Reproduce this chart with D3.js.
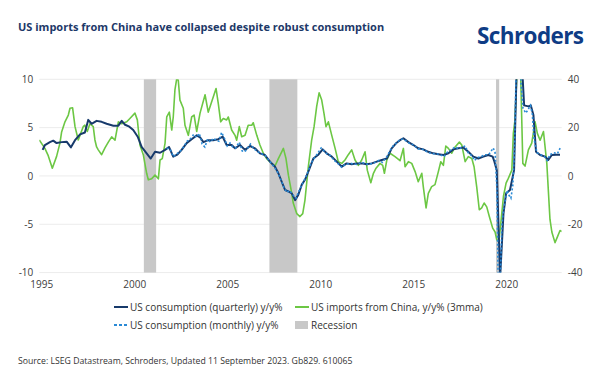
<!DOCTYPE html>
<html>
<head>
<meta charset="utf-8">
<script src="https://cdn.jsdelivr.net/npm/d3@7/dist/d3.min.js"></script>
<style>
  body { margin: 0; background: #fff; }
  svg { font-family: "Open Sans", sans-serif; }
</style>
</head>
<body>
<svg id="chart" width="600" height="383"></svg>
<script>
// US consumption (quarterly) y/y%, left axis
const qDates = [1995.73,1995.85,1996.12,1996.3,1996.48,1996.75,1997.02,1997.25,1997.47,1997.74,1998.0,1998.18,1998.36,1998.63,1998.9,1999.17,1999.53,1999.8,1999.98,2000.16,2000.39,2000.6,2000.84,2001.05,2001.32,2001.54,2001.77,2002.04,2002.31,2002.52,2002.75,2002.97,2003.2,2003.47,2003.74,2004.01,2004.19,2004.37,2004.63,2004.9,2005.17,2005.41,2005.62,2005.89,2006.07,2006.34,2006.61,2006.88,2007.14,2007.41,2007.68,2007.95,2008.22,2008.4,2008.58,2008.76,2008.94,2009.12,2009.3,2009.47,2009.66,2009.83,2010.01,2010.28,2010.55,2010.78,2011.0,2011.27,2011.54,2011.81,2012.07,2012.34,2012.61,2012.88,2013.15,2013.42,2013.69,2013.96,2014.23,2014.49,2014.76,2014.94,2015.12,2015.39,2015.66,2015.92,2016.19,2016.46,2016.73,2017.0,2017.27,2017.54,2017.81,2018.08,2018.34,2018.61,2018.88,2019.15,2019.42,2019.69,2019.92,2020.01,2020.14,2020.32,2020.5,2020.64,2020.85,2021.07,2021.26,2021.48,2021.61,2021.84,2021.97,2022.11,2022.25,2022.47,2022.74,2022.91,2023.1,2023.33,2023.54];
const qValues = [2.7,3.2,3.5,3.65,3.4,3.5,3.55,2.96,3.7,4.3,4.5,5.8,5.4,5.7,5.6,5.4,5.2,5.2,5.7,5.3,5.1,4.75,4.06,3.0,2.34,1.8,2.5,2.4,2.7,3.0,2.0,2.2,2.7,3.4,3.8,4.2,4.0,3.5,3.7,3.7,3.8,4.06,3.2,3.2,2.86,3.2,2.7,3.1,2.86,2.34,2.17,1.48,0.96,0.28,-0.6,-1.45,-1.6,-1.8,-2.5,-1.96,-0.9,-0.4,0.44,1.8,2.2,2.75,2.34,2.0,1.48,0.96,1.3,1.2,1.3,1.3,1.2,1.3,1.48,1.65,1.8,2.86,3.44,3.7,3.9,3.5,3.2,2.86,2.75,2.5,2.34,2.25,2.17,2.34,2.75,2.86,2.95,2.5,2.0,1.8,2.0,2.17,2.0,1.5,0.6,-10.5,-3.9,-1.8,-1.45,0.6,15,12,7.3,7.2,7.3,6.3,2.5,2.17,2.0,1.65,2.17,2.2,2.2];

// US consumption (monthly) y/y%, left axis
const mDates = [2002.4,2002.6,2002.75,2002.95,2003.1,2003.3,2003.5,2003.7,2003.85,2004.0,2004.15,2004.3,2004.45,2004.6,2004.75,2004.9,2005.05,2005.2,2005.35,2005.5,2005.65,2005.8,2005.95,2006.1,2006.3,2006.45,2006.6,2006.75,2006.9,2007.1,2007.3,2007.5,2007.7,2007.9,2008.1,2008.3,2008.5,2008.7,2008.85,2009.0,2009.2,2009.35,2009.5,2009.7,2009.85,2010.0,2010.15,2010.35,2010.5,2010.7,2010.85,2011.0,2011.2,2011.4,2011.6,2011.8,2012.0,2012.3,2012.6,2012.9,2013.2,2013.5,2013.8,2014.0,2014.2,2014.4,2014.6,2014.8,2014.95,2015.1,2015.3,2015.5,2015.7,2015.9,2016.1,2016.3,2016.5,2016.7,2016.9,2017.1,2017.3,2017.5,2017.7,2017.9,2018.1,2018.3,2018.45,2018.6,2018.8,2018.95,2019.1,2019.3,2019.5,2019.7,2019.85,2019.95,2020.05,2020.15,2020.25,2020.33,2020.42,2020.5,2020.6,2020.7,2020.8,2020.9,2021.0,2021.1,2021.2,2021.3,2021.45,2021.55,2021.7,2021.8,2021.95,2022.05,2022.15,2022.3,2022.5,2022.7,2022.85,2023.0,2023.2,2023.4,2023.55,2023.63];
const mValues = [2.9,2.7,2.0,2.3,2.5,3.0,3.6,3.9,4.3,4.0,4.4,3.3,3.0,3.8,3.5,3.9,3.7,3.6,4.5,3.9,3.1,3.4,3.0,2.9,3.5,2.6,2.5,2.9,3.3,2.8,2.5,2.3,2.1,1.6,1.1,0.6,-0.2,-1.2,-1.7,-1.5,-2.0,-2.3,-1.6,-0.8,-0.2,0.5,1.3,1.9,2.3,2.9,2.6,2.3,2.1,1.6,1.3,0.9,1.2,1.3,1.2,1.4,1.2,1.3,1.6,1.4,1.9,2.6,3.2,3.5,3.8,3.8,3.6,3.3,3.2,2.8,2.8,2.6,2.4,2.3,2.3,2.2,2.0,2.5,2.7,3.0,2.8,3.0,3.1,2.4,2.1,1.6,1.9,2.0,2.2,2.2,2.6,2.9,2.4,-1.5,-16,-10.5,-5,-3.5,-2.5,-1.5,-2.0,-2.3,-1.0,3,13,20,9.5,7.0,6.5,6.8,7.3,6.4,3.8,2.4,2.2,2.0,1.6,2.2,2.4,2.3,2.9,3.0];

// US imports from China, y/y% (3mma), right axis
const iDates = [1995.55,1995.85,1996.03,1996.25,1996.48,1996.66,1996.75,1996.93,1997.11,1997.2,1997.34,1997.47,1997.645,1997.74,1997.91,1998.0,1998.13,1998.27,1998.45,1998.54,1998.63,1998.72,1998.9,1999.08,1999.26,1999.44,1999.62,1999.8,1999.98,2000.25,2000.42,2000.69,2000.82,2000.96,2001.14,2001.32,2001.41,2001.59,2001.77,2001.95,2002.04,2002.16,2002.31,2002.4,2002.54,2002.67,2002.75,2002.84,2002.94,2003.02,2003.11,2003.29,2003.38,2003.56,2003.74,2003.87,2004.01,2004.19,2004.46,2004.63,2004.82,2005.05,2005.17,2005.3,2005.44,2005.62,2005.71,2005.89,2006.07,2006.16,2006.3,2006.43,2006.61,2006.78,2006.97,2007.05,2007.24,2007.41,2007.59,2007.77,2008.04,2008.22,2008.4,2008.58,2008.67,2008.81,2008.94,2009.12,2009.2,2009.39,2009.56,2009.71,2009.83,2010.01,2010.19,2010.32,2010.46,2010.59,2010.73,2010.85,2010.96,2011.09,2011.27,2011.45,2011.62,2011.81,2011.98,2012.16,2012.34,2012.52,2012.7,2012.88,2013.06,2013.18,2013.37,2013.51,2013.65,2013.865,2014.01,2014.1,2014.23,2014.4,2014.67,2014.94,2015.12,2015.21,2015.39,2015.57,2015.75,2015.92,2016.11,2016.19,2016.34,2016.46,2016.64,2016.82,2017.0,2017.13,2017.27,2017.4,2017.54,2017.72,2017.9,2018.13,2018.26,2018.44,2018.61,2018.8,2018.92,2019.06,2019.2,2019.33,2019.46,2019.6,2019.74,2019.92,2020.05,2020.14,2020.25,2020.32,2020.5,2020.64,2020.76,2020.95,2021.03,2021.12,2021.21,2021.3,2021.43,2021.54,2021.66,2021.84,2022.02,2022.2,2022.32,2022.47,2022.65,2022.83,2023.0,2023.1,2023.27,2023.4,2023.54,2023.63];
const iValues = [14.9,11.4,8.4,3.2,8.1,13.6,18.2,22.4,25.2,28,28.2,20.4,14.9,16.9,20.4,21,18.4,21.6,20.4,14.9,12,10.8,8.8,11.6,14,16.2,14.8,22.4,21.6,22.4,23.8,26,23.2,12.8,8.8,1.1,-1.6,-1.2,0.4,-1.2,6.6,7.2,13.6,24.4,26.4,19,24.4,35.6,40.4,39.6,31.4,28,21,16.8,24.4,25.2,18.4,26,33.6,26.4,30.8,36.2,30,22.4,23.8,23.2,24.4,19,16.8,14.8,20.4,16.2,16.8,21,21,22,16.8,12.8,9.4,7.2,5.2,4.1,7.2,10,11.4,7.2,0.3,-7.2,-11.2,-15.6,-16.8,-15.6,-10,3.8,14.8,20.4,28.8,34.4,31.4,26,20.4,22.4,16.8,11.4,5.9,5.2,6.6,8.8,10.8,6.6,4.4,6.6,10,2.4,-2.8,1.1,3.2,5.2,4.4,1.1,6.6,9.4,8,6.3,11.4,3.8,5.9,5.2,1.8,-2.4,1.1,-4.4,-13.2,-7.2,-4.4,-3.6,1.8,5.9,4.4,12.4,11.4,9.4,12,14,12.8,5.9,8,7.2,3.8,-4.4,-14,-13.2,-11.2,-12.8,-16.8,-21.6,-23.2,-26.4,-27.2,-22.4,-8.4,-3,-1,2.4,17.6,23.2,40,60,40,5.2,4.1,10.8,13.6,22.4,17.6,14.8,18.4,5.2,-18,-23.2,-27.6,-25.2,-22.6,-23];

// NBER recessions
const recessionStarts = [2001.17, 2007.92, 2020.1];
const recessionEnds = [2001.83, 2009.42, 2020.27];

const yearTicks = [1995, 2000, 2005, 2010, 2015, 2020];
const leftTicks = [-10, -5, 0, 5, 10];
const rightTicks = [-40, -20, 0, 20, 40];

const navy = "#173a6b", green = "#6cc744", lightBlue = "#2a8ad6", grey = "#c8c8c8";

const svg = d3.select("#chart");
const margin = { top: 79.3, right: 38.3, bottom: 110.4, left: 39.3 };
const width = 600 - margin.left - margin.right;
const height = 383 - margin.top - margin.bottom;

const g = svg.append("g")
  .attr("transform", "translate(" + margin.left + "," + margin.top + ")");

const x = d3.scaleLinear().domain([1995.55, 2023.63]).range([0, width]);
const yL = d3.scaleLinear().domain([-10, 10]).range([height, 0]);
const yR = d3.scaleLinear().domain([-40, 40]).range([height, 0]);

// year labels in the original sit ~8 months into each year
const labelShift = 0.65;

// grid
g.append("g")
  .selectAll("line")
  .data(leftTicks)
  .enter()
  .append("line")
  .attr("x1", 0)
  .attr("x2", width)
  .attr("y1", d => yL(d))
  .attr("y2", d => yL(d))
  .attr("stroke", "#ececec")
  .attr("stroke-width", 1);

// recession bars
g.append("g")
  .selectAll("rect")
  .data(d3.zip(recessionStarts, recessionEnds))
  .enter()
  .append("rect")
  .attr("x", d => x(d[0]))
  .attr("width", d => x(d[1]) - x(d[0]))
  .attr("y", 0)
  .attr("height", height)
  .attr("fill", grey);

svg.append("defs").append("clipPath")
  .attr("id", "plot")
  .append("rect")
  .attr("width", width)
  .attr("height", height);

const lines = g.append("g").attr("clip-path", "url(#plot)");

const importData = d3.zip(iDates, iValues);
const qData = d3.zip(qDates, qValues);
const mData = d3.zip(mDates, mValues);

lines.append("path")
  .datum(importData)
  .attr("fill", "none")
  .attr("stroke", green)
  .attr("stroke-width", 1.6)
  .attr("stroke-linejoin", "round")
  .attr("d", d3.line().x(d => x(d[0])).y(d => yR(d[1])));

lines.append("path")
  .datum(qData)
  .attr("fill", "none")
  .attr("stroke", navy)
  .attr("stroke-width", 2)
  .attr("stroke-linejoin", "round")
  .attr("d", d3.line().x(d => x(d[0])).y(d => yL(d[1])));

lines.append("path")
  .datum(mData)
  .attr("fill", "none")
  .attr("stroke", lightBlue)
  .attr("stroke-width", 1.6)
  .attr("stroke-dasharray", "2,2")
  .attr("d", d3.line().x(d => x(d[0])).y(d => yL(d[1])));

// axes
const tickColor = "#404040";
const plain = d => String(d); // hyphen minus like the original

const leftAxis = g.append("g")
  .call(d3.axisLeft(yL).tickValues(leftTicks).tickFormat(plain).tickSize(0).tickPadding(6));

const rightAxis = g.append("g")
  .attr("transform", "translate(" + width + ",0)")
  .call(d3.axisRight(yR).tickValues(rightTicks).tickFormat(plain).tickSize(0).tickPadding(6));

const bottomAxis = g.append("g")
  .attr("transform", "translate(0," + height + ")")
  .call(d3.axisBottom(x)
    .tickValues(yearTicks.map(d => d + labelShift))
    .tickFormat(d => Math.round(d - labelShift))
    .tickSize(0).tickPadding(8));

[leftAxis, rightAxis, bottomAxis].forEach(a => {
  a.select(".domain").remove();
  a.selectAll("text")
    .attr("fill", tickColor)
    .style("font-size", "10px")
    .style("font-family", "Open Sans");
});

// title + logo
svg.append("text")
  .attr("x", 18)
  .attr("y", 31)
  .attr("fill", "#1d3868")
  .style("font-size", "11px")
  .style("font-weight", 700)
  .text("US imports from China have collapsed despite robust consumption");

svg.append("text")
  .attr("x", 477)
  .attr("y", 44)
  .attr("fill", "#0f3c85")
  .style("font-size", "22.5px")
  .style("font-weight", 700)
  .style("letter-spacing", "-0.6px")
  .text("Schroders");

// legend
const legendItems = [
  { label: "US consumption (quarterly) y/y%", type: "line", color: navy, x: 114, y: 307 },
  { label: "US imports from China, y/y% (3mma)", type: "line", color: green, x: 295, y: 307 },
  { label: "US consumption (monthly) y/y%", type: "dash", color: lightBlue, x: 114, y: 325 },
  { label: "Recession", type: "rect", color: grey, x: 295, y: 325 }
];

const legend = svg.append("g");
legendItems.forEach(item => {
  const li = legend.append("g").attr("transform", "translate(" + item.x + "," + item.y + ")");
  if (item.type === "rect") {
    li.append("rect").attr("x", 0).attr("y", -4).attr("width", 13).attr("height", 8).attr("fill", item.color);
  } else {
    li.append("line")
      .attr("x1", 0).attr("x2", 14).attr("y1", 0).attr("y2", 0)
      .attr("stroke", item.color)
      .attr("stroke-width", 2)
      .attr("stroke-dasharray", item.type === "dash" ? "3,2" : null);
  }
  li.append("text")
    .attr("x", 16)
    .attr("y", 0)
    .attr("dy", "0.35em")
    .attr("fill", "#333")
    .style("font-size", "10px")
    .text(item.label);
});

// source
svg.append("text")
  .attr("x", 18)
  .attr("y", 364)
  .attr("fill", "#333")
  .style("font-size", "8.7px")
  .text("Source: LSEG Datastream, Schroders, Updated 11 September 2023. Gb829. 610065");
</script>
</body>
</html>
